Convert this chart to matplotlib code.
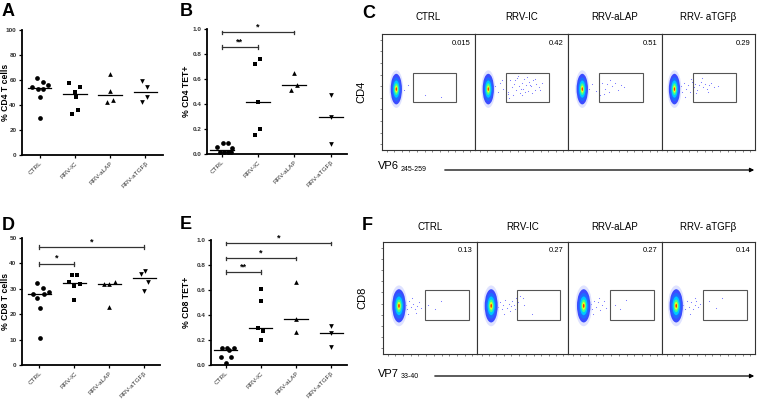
"""
Six-panel figure: CD4 / CD8 T cell and tetramer+ scatter plots (A, B, D, E)
and flow cytometry gates for VP6 / VP7 tetramer staining (C, F).
"""
import numpy as np
import matplotlib
matplotlib.use("Agg")
import matplotlib.pyplot as plt
from matplotlib.patches import Ellipse, Rectangle, FancyArrowPatch

plt.rcParams["font.family"] = ["Liberation Sans", "DejaVu Sans"]

W, H = 760, 408

# ---- scatter data (A, B, D, E) ----
groups = ["CTRL", "RRV-IC", "RRV-aLAP", "RRV-aTGFβ"]
markers = ["o", "s", "^", "v"]

cd4_ctrl = [61.6, 58.4, 54.1, 52.5, 52.8, 56.0, 46.7, 29.6]
cd4_ic = [57.3, 54.7, 50.7, 46.7, 36.3, 32.5]
cd4_alap = [64.8, 51.5, 42.7, 44.3]
cd4_atgfb = [58.9, 54.1, 42.4, 46.1]

cd4tet_ctrl = [0.06, 0.09, 0.085, 0.045, 0.02, 0.02, 0.02, 0.02]
cd4tet_ic = [0.72, 0.76, 0.42, 0.20, 0.15]
cd4tet_alap = [0.65, 0.556, 0.51]
cd4tet_atgfb = [0.476, 0.294, 0.083]

cd8_ctrl = [32.3, 30.2, 28.1, 26.5, 28.0, 28.8, 22.3, 10.7]
cd8_ic = [35.3, 35.3, 32.8, 32.0, 31.2, 25.7]
cd8_alap = [31.8, 31.8, 32.7, 22.8]
cd8_atgfb = [35.7, 37.0, 32.7, 29.1]

cd8tet_ctrl = [0.134, 0.134, 0.118, 0.134, 0.067, 0.067, 0.016]
cd8tet_ic = [0.61, 0.513, 0.294, 0.27, 0.20]
cd8tet_alap = [0.668, 0.372, 0.267]
cd8tet_atgfb = [0.313, 0.254, 0.144]

# horizontal jitter per point (category units)
jit_a = [[-0.2, 0.3, -0.64, -0.17, 0.3, 0.75, 0.06, 0.06],
         [-0.5, 0.45, 0.0, 0.08, 0.23, -0.26], [0.0, 0.0, -0.25, 0.28],
         [-0.3, 0.18, -0.32, 0.18]]
jit_b = [[-0.4, 0.1, 0.55, 0.9, -0.15, 0.2, 0.5, 0.8],
         [-0.25, 0.2, 0.0, 0.2, -0.25], [0.0, 0.2, -0.25], [0.0, 0.0, 0.0]]
jit_d = [[-0.18, 0.3, -0.55, -0.2, 0.35, 0.8, 0.05, 0.05],
         [-0.25, 0.25, -0.5, 0.45, 0.0, 0.0], [-0.5, 0.0, 0.45, 0.0],
         [-0.25, 0.05, 0.28, 0.0]]
jit_e = [[-0.3, 0.15, 0.25, 0.7, -0.4, 0.45, 0.0],
         [0.0, 0.0, -0.25, 0.2, 0.0], [0.0, 0.0, 0.0], [0.0, 0.0, 0.0]]

# significance brackets: (end group index, y, label)
sig_b = [(1, 0.856, "**"), (2, 0.973, "*")]
sig_d = [(1, 39.9, "*"), (3, 46.3, "*")]
sig_e = [(1, 0.746, "**"), (2, 0.853, "*"), (3, 0.973, "*")]

# ---- flow data (C, F) ----
cd4_freq = ["0.015", "0.42", "0.51", "0.29"]
cd8_freq = ["0.13", "0.27", "0.27", "0.14"]
flow_titles = ["CTRL", "RRV-IC", "RRV-aLAP", "RRV- aTGFβ"]

# main population centre per box (box units)
cd4_blob_x = [0.154, 0.143, 0.152, 0.134]
cd8_blob_x = [0.17, 0.156, 0.167, 0.153]

# sparse events per box (x list, y list)
cd4_events = [
    ([0.24, 0.46, 0.63, 0.28],
     [0.52, 0.47, 0.46, 0.56]),
    ([0.22, 0.25, 0.27, 0.3, 0.33, 0.36, 0.38, 0.4, 0.42, 0.44, 0.45, 0.47, 0.48,
      0.5, 0.52, 0.53, 0.55, 0.57, 0.58, 0.6, 0.62, 0.64, 0.66, 0.69, 0.72, 0.41,
      0.46, 0.51, 0.56, 0.61, 0.37, 0.43, 0.49, 0.54, 0.59, 0.65, 0.7, 0.29, 0.35],
     [0.55, 0.5, 0.58, 0.53, 0.56, 0.5, 0.6, 0.54, 0.57, 0.52, 0.62, 0.55, 0.49,
      0.58, 0.53, 0.61, 0.56, 0.51, 0.59, 0.55, 0.6, 0.52, 0.57, 0.54, 0.58, 0.47,
      0.64, 0.47, 0.63, 0.49, 0.45, 0.6, 0.53, 0.5, 0.56, 0.61, 0.52, 0.6, 0.48]),
    ([0.22, 0.26, 0.3, 0.33, 0.36, 0.39, 0.42, 0.44, 0.47, 0.5, 0.53, 0.56, 0.38,
      0.45, 0.6, 0.34],
     [0.53, 0.57, 0.51, 0.55, 0.58, 0.53, 0.57, 0.5, 0.55, 0.58, 0.52, 0.56, 0.48,
      0.6, 0.54, 0.47]),
    ([0.2, 0.22, 0.24, 0.26, 0.28, 0.3, 0.32, 0.34, 0.36, 0.38, 0.4, 0.42, 0.44,
      0.46, 0.48, 0.5, 0.53, 0.56, 0.25, 0.31, 0.37, 0.43, 0.49, 0.6],
     [0.55, 0.5, 0.58, 0.53, 0.56, 0.5, 0.59, 0.54, 0.57, 0.52, 0.56, 0.59, 0.54,
      0.57, 0.53, 0.56, 0.58, 0.54, 0.46, 0.61, 0.49, 0.62, 0.5, 0.55]),
]
cd8_events = [
    ([0.24, 0.26, 0.28, 0.3, 0.32, 0.34, 0.36, 0.38, 0.4, 0.27, 0.31, 0.35, 0.48,
      0.55, 0.62],
     [0.44, 0.4, 0.47, 0.42, 0.45, 0.4, 0.43, 0.46, 0.41, 0.36, 0.5, 0.37, 0.44,
      0.4, 0.47]),
    ([0.23, 0.25, 0.27, 0.29, 0.31, 0.33, 0.35, 0.37, 0.39, 0.41, 0.43, 0.45, 0.47,
      0.3, 0.36, 0.42, 0.5, 0.52, 0.6],
     [0.42, 0.46, 0.4, 0.44, 0.48, 0.41, 0.45, 0.43, 0.47, 0.44, 0.5, 0.46, 0.52,
      0.36, 0.38, 0.4, 0.5, 0.44, 0.36]),
    ([0.24, 0.26, 0.28, 0.3, 0.32, 0.34, 0.36, 0.38, 0.4, 0.27, 0.33, 0.5, 0.55,
      0.62],
     [0.45, 0.4, 0.47, 0.42, 0.46, 0.39, 0.44, 0.47, 0.41, 0.36, 0.5, 0.44, 0.4,
      0.48]),
    ([0.23, 0.25, 0.27, 0.29, 0.31, 0.33, 0.35, 0.37, 0.39, 0.41, 0.3, 0.36, 0.5,
      0.58, 0.65],
     [0.44, 0.4, 0.47, 0.42, 0.46, 0.4, 0.44, 0.47, 0.42, 0.45, 0.36, 0.5, 0.47,
      0.41, 0.5]),
]


def px_axes(fig, left, top, right, bottom):
    return fig.add_axes([left / W, 1 - bottom / H, (right - left) / W, (bottom - top) / H])


def dot_panel(ax, data, jitter, ymax, yticks, ylabel, xlim, label_px, sig=None):
    for i, vals in enumerate(data):
        xs = [i + j * 0.33 for j in jitter[i]]
        ax.plot(xs, vals, linestyle="none", marker=markers[i], ms=3.4,
                color="black", markeredgewidth=0)
        med = np.median(vals)
        ax.plot([i - 0.33, i + 0.33], [med, med], color="black", lw=0.9)
    ax.set_xlim(*xlim)
    ax.set_ylim(0, ymax)
    ax.set_yticks(yticks)
    ax.set_yticklabels([f"{t:g}" if ymax > 1 else f"{t:.1f}" for t in yticks],
                       fontsize=4.6, fontweight="bold", color="#333333")
    ax.set_xticks(range(len(groups)))
    ax.set_xticklabels(groups, rotation=45, ha="right", rotation_mode="anchor",
                       fontsize=4.6, color="#333333")
    ax.tick_params(length=2.5, width=0.9, pad=1.5)
    for s in ("top", "right"):
        ax.spines[s].set_visible(False)
    for s in ("left", "bottom"):
        ax.spines[s].set_linewidth(1.3)
    ax.set_ylabel(ylabel, fontsize=6.2, fontweight="bold")
    # label's right edge sits label_px pixels left of the spine
    bbox = ax.get_position()
    ax.yaxis.set_label_coords(-label_px / (bbox.width * W), 0.5)
    if sig:
        tick = ymax * 0.015
        for end, y, lab in sig:
            ax.plot([0, end], [y, y], color="#333333", lw=0.9)
            ax.plot([0, 0], [y - tick, y + tick], color="#333333", lw=0.9)
            ax.plot([end, end], [y - tick, y + tick], color="#333333", lw=0.9)
            ax.text(end / 2, y + ymax * 0.005, lab, ha="center", va="bottom",
                    fontsize=6.5, fontweight="bold")


def blob(ax, cx, cy, w, h):
    layers = [(1.35, "#b8c0ff", 0.45), (1.1, "#3b4cff", 1.0), (0.85, "#1e6cff", 1.0),
              (0.62, "#00c8ff", 1.0), (0.42, "#40ff90", 1.0), (0.26, "#e8ff20", 1.0),
              (0.13, "#ff3000", 1.0)]
    for s, c, a in layers:
        ax.add_patch(Ellipse((cx, cy), w * s, h * s, color=c, alpha=a, lw=0))


def flow_row(fig, top, bottom, lefts, freqs, blob_x, blob_y, bw, bh, events,
             gate, ylab, title_y):
    for k in range(4):
        ax = px_axes(fig, lefts[k], top, lefts[k + 1], bottom)
        ax.set_xlim(0, 1)
        ax.set_ylim(0, 1)
        for s in ax.spines.values():
            s.set_linewidth(0.8)
            s.set_color("#333333")
        ax.set_xticks(np.linspace(0.05, 0.95, 12))
        ax.set_xticklabels([])
        if k == 0:
            ax.set_yticks(np.linspace(0.05, 0.95, 10))
            ax.set_yticklabels([])
            ax.set_ylabel(ylab, fontsize=8, labelpad=6)
        else:
            ax.set_yticks([])
        ax.tick_params(length=1.5, width=0.5, color="#555555")
        ex, ey = events[k]
        ax.scatter(ex, ey, s=0.6, color="#6a6aff", lw=0)
        blob(ax, blob_x[k], blob_y, bw, bh)
        x0, x1, y0, y1 = gate
        ax.add_patch(Rectangle((x0, y0), x1 - x0, y1 - y0, fill=False,
                               ec="#555555", lw=0.8))
        ax.text(0.95, 0.92, freqs[k], ha="right", va="center", fontsize=5.5)
        fig.text((lefts[k] + lefts[k + 1]) / 2 / W, 1 - title_y / H, flow_titles[k],
                 ha="center", va="center", fontsize=7)


def main():
    fig = plt.figure(figsize=(W / 100, H / 100), dpi=100)

    ax_a = px_axes(fig, 22, 30, 163, 155)
    dot_panel(ax_a, [cd4_ctrl, cd4_ic, cd4_alap, cd4_atgfb], jit_a, 100,
              [0, 20, 40, 60, 80, 100], "% CD4 T cells", (-0.5, 3.5), 12)
    ax_b = px_axes(fig, 207, 29, 347, 154)
    dot_panel(ax_b, [cd4tet_ctrl, cd4tet_ic, cd4tet_alap, cd4tet_atgfb], jit_b, 1.0,
              [0, 0.2, 0.4, 0.6, 0.8, 1.0], "% CD4 TET+", (-0.4, 3.45), 16, sig_b)
    ax_d = px_axes(fig, 22, 238, 160, 365)
    dot_panel(ax_d, [cd8_ctrl, cd8_ic, cd8_alap, cd8_atgfb], jit_d, 50,
              [0, 10, 20, 30, 40, 50], "% CD8 T cells", (-0.5, 3.45), 12, sig_d)
    ax_e = px_axes(fig, 211, 240, 347, 365)
    dot_panel(ax_e, [cd8tet_ctrl, cd8tet_ic, cd8tet_alap, cd8tet_atgfb], jit_e, 1.0,
              [0, 0.2, 0.4, 0.6, 0.8, 1.0], "% CD8 TET+", (-0.42, 3.45), 20, sig_e)

    flow_row(fig, 34, 150, [382, 475, 568, 662, 755], cd4_freq, cd4_blob_x,
             0.525, 0.11, 0.24, cd4_events, (0.33, 0.80, 0.41, 0.66), "CD4", 17)
    flow_row(fig, 242, 354, [383, 477, 568, 662, 755], cd8_freq, cd8_blob_x,
             0.43, 0.13, 0.27, cd8_events, (0.445, 0.91, 0.30, 0.57), "CD8", 227)

    # axis captions with arrows under flow rows
    fig.text(378 / W, 1 - 166 / H, "VP6", fontsize=8, va="center")
    fig.text(401 / W, 1 - 169 / H, "245-259", fontsize=5, va="center")
    fig.text(378 / W, 1 - 374 / H, "VP7", fontsize=8, va="center")
    fig.text(401 / W, 1 - 377 / H, "33-40", fontsize=5, va="center")
    for y, x0 in ((170, 442), (376, 432)):
        fig.add_artist(FancyArrowPatch(
            (x0 / W, 1 - y / H), (757 / W, 1 - y / H), transform=fig.transFigure,
            arrowstyle="-|>", mutation_scale=6, lw=0.9, color="black"))

    for lab, x, y in (("A", 2, 12), ("B", 180, 12), ("C", 362, 13),
                      ("D", 2, 225), ("E", 180, 224), ("F", 362, 226)):
        fig.text(x / W, 1 - y / H, lab, fontsize=13, fontweight="bold", va="center")

    fig.savefig("out.png", dpi=100)


if __name__ == "__main__":
    main()
